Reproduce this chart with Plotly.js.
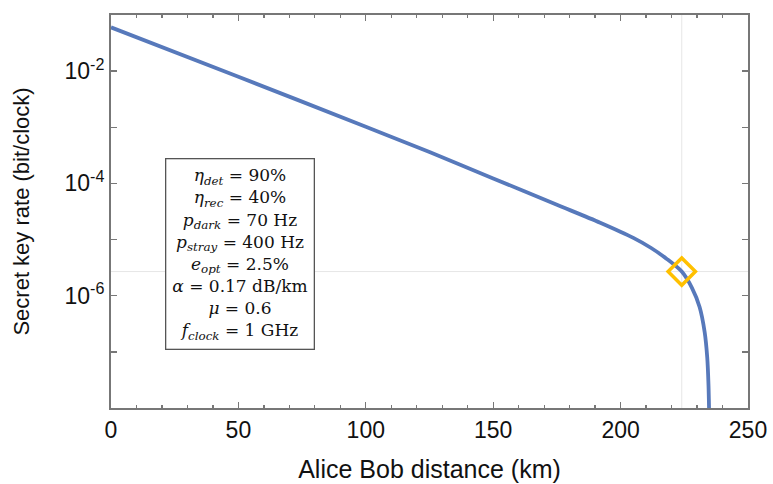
<!DOCTYPE html>
<html>
<head>
<meta charset="utf-8">
<script src="https://cdn.plot.ly/plotly-3.0.1.min.js"></script>
<style>html,body{margin:0;padding:0;background:#fff;}#chart{width:773px;height:484px;}</style>
</head>
<body>
<div id="chart"></div>
<script>
// Distance (km) and log10 of secret key rate (bit/clock)
const distanceKm = [0, 50, 100, 125, 150, 175, 192, 205, 212, 218, 224, 228, 231, 233, 234, 234.5, 234.75];
const logRate    = [-1.22, -2.10, -2.99, -3.44, -3.91, -4.38, -4.70, -4.97, -5.15, -5.34, -5.57, -5.86, -6.20, -6.65, -7.1, -7.6, -8.1];
const keyRate = logRate.map(v => Math.pow(10, v));

const markerKm = [224];
const markerRate = [Math.pow(10, -5.57)];

const yTickVals = [1e-8, 1e-7, 1e-6, 1e-5, 1e-4, 1e-3, 1e-2, 1e-1];
const yTickText = ['', '', '10<sup>-6</sup>', '', '10<sup>-4</sup>', '', '10<sup>-2</sup>', ''];
const xTickVals = [0, 50, 100, 150, 200, 250];

const paramLines = [
  '<i>η</i><sub><i>det</i></sub> = 90%',
  '<i>η</i><sub><i>rec</i></sub> = 40%',
  '<i>p</i><sub><i>dark</i></sub> = 70 Hz',
  '<i>p</i><sub><i>stray</i></sub> = 400 Hz',
  '<i>e</i><sub><i>opt</i></sub> = 2.5%',
  '<i>α</i> = 0.17 dB/km',
  '<i>μ</i> = 0.6',
  '<i>f</i><sub><i>clock</i></sub> = 1 GHz'
];

const curve = {
  x: distanceKm, y: keyRate, mode: 'lines', type: 'scatter',
  line: {color: '#5779BB', width: 3.8, shape: 'spline', smoothing: 0.8},
  hoverinfo: 'skip', showlegend: false
};
const marker = {
  x: markerKm, y: markerRate, mode: 'markers', type: 'scatter',
  marker: {symbol: 'diamond-open', size: 21, color: '#FFC000', line: {width: 3.5, color: '#FFC000'}},
  showlegend: false
};

const layout = {
  width: 773, height: 484,
  margin: {l: 111, r: 25, t: 15, b: 76},
  paper_bgcolor: '#fff', plot_bgcolor: '#fff',
  font: {family: 'Liberation Sans, Arial, sans-serif', color: '#111'},
  xaxis: {
    range: [0, 250], tickvals: xTickVals, ticks: 'inside', ticklen: 6, tickwidth: 1.3,
    tickcolor: '#777', showline: true, linecolor: '#777', linewidth: 2, mirror: 'ticks',
    showgrid: false, zeroline: false,
    minor: {dtick: 10, ticks: 'inside', ticklen: 3, tickcolor: '#777', showgrid: false},
    tickfont: {size: 23, color: '#111'},
    title: {text: 'Alice Bob distance (km)', font: {size: 25, color: '#111'}, standoff: 19}
  },
  yaxis: {
    type: 'log', range: [-8, -1], tickvals: yTickVals, ticktext: yTickText,
    ticks: 'inside', ticklen: 6, tickwidth: 1.3, tickcolor: '#777',
    showline: true, linecolor: '#777', linewidth: 2, mirror: 'ticks',
    showgrid: false, zeroline: false,
    tickfont: {size: 23, color: '#111'},
    title: {text: 'Secret key rate (bit/clock)', font: {size: 22, color: '#111'}, standoff: 29}
  },
  shapes: [
    {type: 'line', xref: 'x', yref: 'paper', x0: markerKm[0], x1: markerKm[0], y0: 0, y1: 1,
     line: {color: '#e6e6e6', width: 1}, layer: 'below'},
    {type: 'line', xref: 'paper', yref: 'y', x0: 0, x1: 1, y0: markerRate[0], y1: markerRate[0],
     line: {color: '#e6e6e6', width: 1}, layer: 'below'}
  ],
  annotations: [{
    xref: 'paper', yref: 'paper', x: 0.2025, y: 0.392, xanchor: 'center', yanchor: 'middle',
    text: paramLines.join('<br>'), showarrow: false, align: 'center',
    font: {family: 'DejaVu Serif, Liberation Serif, serif', size: 17, color: '#111'},
    bordercolor: '#555', borderwidth: 1.3, borderpad: 6, bgcolor: '#fff'
  }]
};

Plotly.newPlot('chart', [curve, marker], layout, {displayModeBar: false, staticPlot: true});
</script>
</body>
</html>
